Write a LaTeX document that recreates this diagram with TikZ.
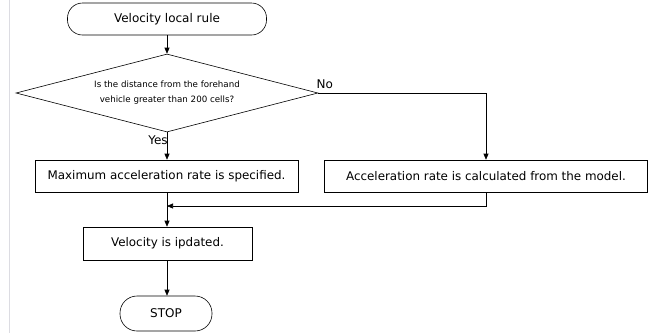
\documentclass[tikz,border=0pt]{standalone}
\usepackage{fontspec}
\setmainfont{DejaVu Sans}
\usetikzlibrary{shapes.geometric,arrows.meta}
\tikzset{
  terminal/.style={draw, rectangle, rounded corners=15pt, font=\fontsize{12}{14}\selectfont, inner sep=0},
  process/.style={draw, rectangle, font=\fontsize{11.9}{14}\selectfont, inner sep=0},
  decision/.style={draw, diamond, aspect=3.87, inner sep=0, minimum width=302pt, minimum height=78pt,
    align=center, font=\fontsize{8.7}{15}\selectfont},
  flow/.style={-{Triangle[width=5pt,length=6pt]}},
  tag/.style={font=\fontsize{12}{14}\selectfont, inner sep=1pt}
}
\begin{document}
\begin{tikzpicture}[x=1pt, y=-1pt, line width=0.6pt]
  \useasboundingbox (0,0) rectangle (657,333);
  \draw[blue!10!gray!25] (9.5,0) -- (9.5,333);
  % blocks
  \node[terminal, minimum width=199pt, minimum height=32pt] (start) at (167,19) {Velocity local rule};
  \node[decision] (dist) at (167,93) {Is the distance from the forehand\\vehicle greater than 200 cells?};
  \node[process, minimum width=263pt, minimum height=32pt] (maxacc) at (166.5,176) {Maximum acceleration rate is specified.};
  \node[process, minimum width=323pt, minimum height=32pt] (calcacc) at (486,176) {Acceleration rate is calculated from the model.};
  \node[process, minimum width=169pt, minimum height=33pt] (update) at (167.5,243.5) {Velocity is ipdated.};
  \node[terminal, minimum width=92pt, minimum height=35pt, rounded corners=17pt] (stop) at (166,313.5) {STOP};
  \node[tag, anchor=south west, xshift=-3pt, yshift=3pt] (no) at (dist.east) {No};
  \coordinate (merge) at (167,206);
  % connectors
  \draw[flow] (start) -- (dist);
  \draw[flow] (dist.south) -- node[tag, pos=0.3, left, xshift=2pt] (yes) {Yes} (dist.south |- maxacc.north);
  \draw[flow] (dist.east) -| (calcacc.north);
  \draw[flow] (calcacc.south) |- (merge);
  \draw[flow] (maxacc.south -| merge) -- (merge |- update.north);
  \draw[flow] (update.south -| merge) -- (merge |- stop.north);
\end{tikzpicture}
\end{document}
